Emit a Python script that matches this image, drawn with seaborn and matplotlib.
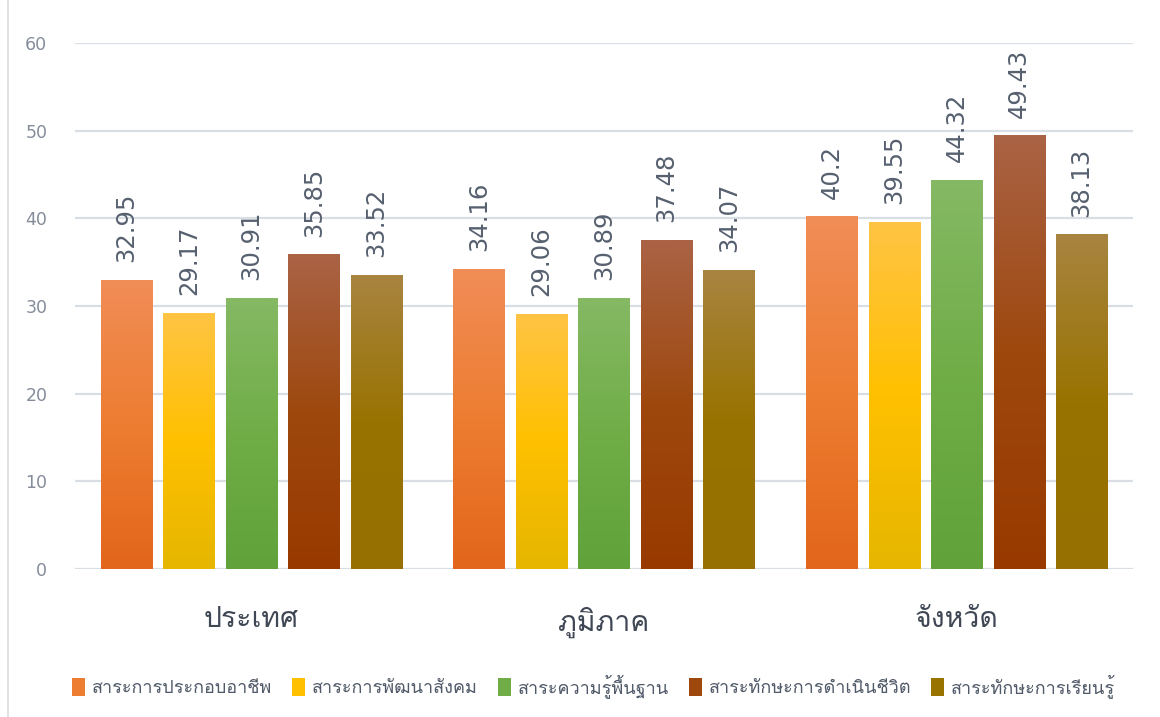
import matplotlib
matplotlib.use("Agg")
import matplotlib.pyplot as plt
import seaborn as sns
import pandas as pd
import numpy as np
from matplotlib import font_manager as fm
from matplotlib.colors import LinearSegmentedColormap
from matplotlib.patches import Patch
from matplotlib.lines import Line2D

# data
regions = ['ประเทศ', 'ภูมิภาค', 'จังหวัด']
subjects = ['สาระการประกอบอาชีพ', 'สาระการพัฒนาสังคม', 'สาระความรู้พื้นฐาน',
            'สาระทักษะการดำเนินชีวิต', 'สาระทักษะการเรียนรู้']
occupation = [32.95, 34.16, 40.20]
social = [29.17, 29.06, 39.55]
basic = [30.91, 30.89, 44.32]
living = [35.85, 37.48, 49.43]
learning = [33.52, 34.07, 38.13]
yticks = [0, 10, 20, 30, 40, 50, 60]

base_colors = ['#ED7D31', '#FFC000', '#70AD47', '#9E480E', '#997300']
top_colors = ['#F18D57', '#FFC444', '#85B964', '#AA6345', '#A88441']
bottom_colors = ['#E2661C', '#E6B600', '#61A23A', '#983A00', '#967000']

# look for a font that actually has Thai glyphs
thai_font = None
try:
    from fontTools.ttLib import TTFont
    for f in fm.fontManager.ttflist:
        try:
            tt = TTFont(f.fname, fontNumber=0, lazy=True)
            cmap = tt.getBestCmap()
            if cmap and 0x0E2A in cmap:
                thai_font = f.name
                break
        except Exception:
            pass
except Exception:
    pass
names = {f.name for f in fm.fontManager.ttflist}
fams = ([thai_font] if thai_font else []) + ['DejaVu Sans']
num_font = 'Liberation Sans Narrow' if 'Liberation Sans Narrow' in names else 'DejaVu Sans'

rows = []
for s, vals in zip(subjects, [occupation, social, basic, living, learning]):
    for r, v in zip(regions, vals):
        rows.append({'region': r, 'subject': s, 'score': v})
df = pd.DataFrame(rows)

sns.set_style('white')
plt.rcParams['font.family'] = fams

fig = plt.figure(figsize=(11.6, 7.17), dpi=100)
ax = fig.add_axes([0.0647, 0.2064, 0.912, 0.7336])

sns.barplot(data=df, x='region', y='score', hue='subject', order=regions,
            hue_order=subjects, palette=base_colors, width=0.886, gap=0.18,
            legend=False, ax=ax, zorder=3)

ax.set_ylim(0, 60)
ax.set_xlim(-0.5, 2.5)
ax.set_yticks(yticks)
ax.grid(axis='y', color='#D9DDE4', linewidth=1.6, zorder=0)
ax.set_axisbelow(True)
for sp in ax.spines.values():
    sp.set_visible(False)
ax.set_xlabel('')
ax.set_ylabel('')
ax.tick_params(axis='y', length=0, pad=20, labelsize=12.5, labelcolor='#858D9B')
ax.tick_params(axis='x', length=0, pad=27, labelsize=20.5, labelcolor='#3F4754')
for lab in ax.get_yticklabels():
    lab.set_fontfamily(num_font)

# vertical gradient on each bar
for i, cont in enumerate(ax.containers):
    cmap = LinearSegmentedColormap.from_list('g%d' % i, [top_colors[i], base_colors[i], bottom_colors[i]])
    for bar in cont:
        x0, w, h = bar.get_x(), bar.get_width(), bar.get_height()
        bar.set_facecolor('none')
        bar.set_edgecolor('none')
        ax.imshow(np.linspace(0, 1, 256).reshape(-1, 1), cmap=cmap, aspect='auto',
                  extent=[x0, x0 + w, 0, h], origin='upper', zorder=3)
    ax.bar_label(cont, labels=['{:g}'.format(v) for v in cont.datavalues],
                 rotation=90, padding=13, fontsize=17.5, color='#56606F',
                 fontfamily=num_font)
ax.set_xlim(-0.5, 2.5)
ax.set_ylim(0, 60)

handles = [Patch(facecolor=c, edgecolor='none') for c in base_colors]
fig.legend(handles, subjects, loc='center', bbox_to_anchor=(0.512, 0.043), ncol=5,
           frameon=False, fontsize=13, labelcolor='#505A68', handlelength=0.7,
           handleheight=1.1, handletextpad=0.4, columnspacing=1.1)

# frame line at the left edge of the chart area
fig.add_artist(Line2D([8 / 1160, 8 / 1160], [0, 1], color='#DADDE2', linewidth=1.2))

fig.savefig('out.png', dpi=100)
